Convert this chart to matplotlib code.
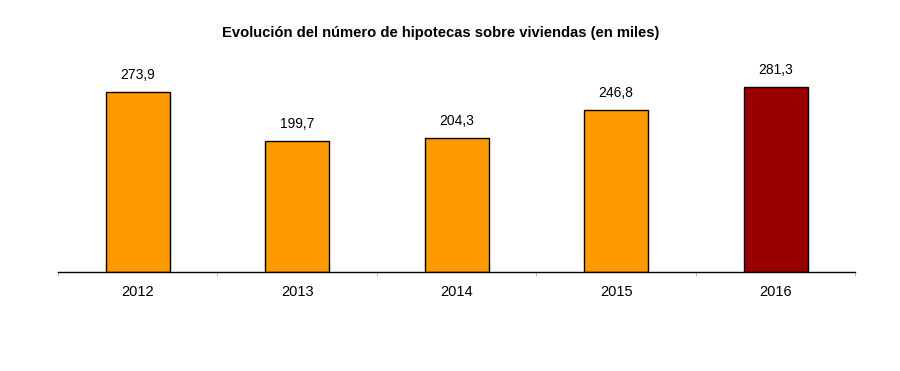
import matplotlib
matplotlib.use("Agg")
import matplotlib.pyplot as plt

# Datos: hipotecas sobre viviendas (miles)
anios = ["2012", "2013", "2014", "2015", "2016"]
hipotecas = [273.9, 199.7, 204.3, 246.8, 281.3]
colores = ["#FF9900", "#FF9900", "#FF9900", "#FF9900", "#990000"]

plt.rcParams["font.family"] = ["Liberation Sans", "DejaVu Sans"]

fig = plt.figure(figsize=(9, 3.71), dpi=100)
ax = fig.add_axes([0.0644, 0.2668, 0.886, 0.5714])

x = range(len(anios))
barras = ax.bar(x, hipotecas, width=0.4, color=colores, edgecolor="black", linewidth=1)

# Etiquetas de valor con coma decimal
for b, v in zip(barras, hipotecas):
    ax.annotate(f"{v:.1f}".replace(".", ","),
                xy=(b.get_x() + b.get_width() / 2, v),
                xytext=(0, 7), textcoords="offset points",
                ha="center", va="bottom", fontsize=10)

ax.set_xlim(-0.5, len(anios) - 0.5)
ax.set_ylim(0, 322.6)
ax.set_xticks(list(x))
ax.set_xticklabels(anios, fontsize=10.5)
ax.tick_params(axis="x", length=0, pad=9)
# pequeñas marcas entre categorías
ax.set_xticks([i + 0.5 for i in range(-1, len(anios))], minor=True)
ax.tick_params(axis="x", which="minor", length=3, color="#aaaaaa")

ax.set_yticks([])
for lado in ["top", "right", "left"]:
    ax.spines[lado].set_visible(False)
ax.spines["bottom"].set_linewidth(1)

fig.text(0.49, 0.91, "Evolución del número de hipotecas sobre viviendas (en miles)",
         ha="center", va="center", fontsize=10.6, fontweight="bold")

fig.savefig("out.png", dpi=100)
